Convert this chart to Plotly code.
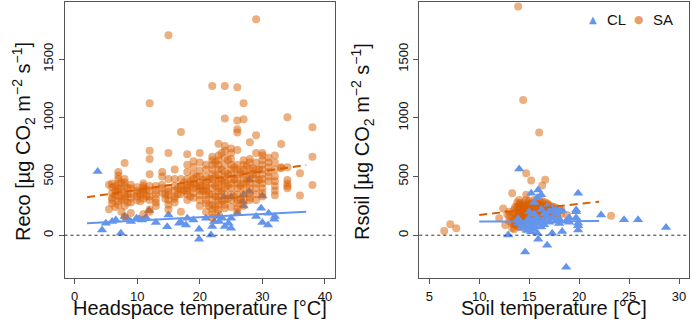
import plotly.graph_objects as go

# ---------------- Data ----------------
# Left panel: Reco vs headspace temperature
sa_hs_temp = (
    [5.5, 5.5] + [6]*6 + [6.5]*4 + [7]*9 + [7.5]*4 + [8]*9 + [8.5]*3 + [9]*6 +
    [10]*5 + [10.5]*2 + [11]*7 + [11.5]*2 + [12]*10 + [13]*6 + [14]*5 + [14.5]*2 +
    [15]*9 + [16]*7 + [16.5]*2 + [17]*6 + [17.5]*2 + [18]*9 + [18.5]*3 + [19]*8 +
    [19.5]*2 + [20]*11 + [20.5]*2 + [21]*11 + [21.5]*3 + [22]*15 + [22.5]*5 +
    [23]*15 + [23.5]*5 + [24]*15 + [24.5]*4 + [25]*12 + [25.5]*3 + [26]*16 +
    [26.5]*3 + [27]*12 + [27.5]*2 + [28]*11 + [28.5]*2 + [29]*11 + [29.5]*2 +
    [30]*11 + [31]*6 + [32]*8 + [33]*3 + [34]*6 + [36]*2 + [38]*3
)
sa_reco = [
    430, 222,
    440, 410, 360, 320, 300, 270,
    420, 380, 340, 240,
    540, 510, 480, 440, 400, 370, 330, 290, 260,
    450, 390, 310, 200,
    615, 480, 450, 420, 360, 330, 300, 250, 160,
    400, 350, 280,
    430, 400, 350, 320, 280, 190,
    410, 380, 360, 330, 300,
    350, 290,
    440, 420, 400, 380, 350, 310, 180,
    390, 330,
    1125, 720, 650, 520, 420, 380, 330, 300, 220, 200,
    420, 380, 350, 310, 280, 250,
    540, 500, 430, 400, 360,
    350, 310,
    1705, 700, 480, 400, 370, 340, 300, 260, 220,
    560, 480, 420, 380, 330, 310, 280,
    400, 350,
    880, 480, 420, 390, 350, 200,
    450, 380,
    690, 600, 540, 480, 430, 400, 380, 350, 300,
    460, 420, 330,
    630, 580, 520, 480, 440, 400, 360, 320,
    500, 420,
    700, 620, 550, 500, 450, 420, 400, 380, 340, 300, 250,
    470, 380,
    600, 560, 500, 450, 420, 400, 380, 340, 300, 270, 200,
    480, 350, 250,
    1273, 670, 640, 600, 560, 520, 480, 440, 400, 350, 300, 260, 220, 180, 150,
    620, 500, 420, 330, 240,
    780, 680, 640, 600, 560, 520, 480, 440, 400, 370, 330, 300, 260, 220, 180,
    700, 560, 460, 380, 290,
    1273, 994, 760, 720, 660, 600, 540, 500, 470, 440, 400, 350, 300, 260, 230,
    640, 520, 420, 310,
    740, 700, 650, 600, 560, 520, 480, 440, 400, 350, 300, 240,
    580, 470, 330,
    1261, 977, 903, 875, 727, 600, 560, 520, 480, 440, 400, 350, 300, 270, 230, 200,
    540, 420, 310,
    1125, 989, 640, 600, 560, 520, 480, 440, 400, 350, 300, 250,
    590, 460,
    793, 650, 620, 560, 520, 480, 440, 400, 360, 320, 300,
    570, 520,
    1841, 852, 700, 620, 560, 520, 480, 440, 400, 350, 300,
    560, 470,
    700, 680, 640, 600, 560, 520, 480, 440, 400, 360, 330,
    660, 620, 580, 540, 500, 460,
    680, 620, 560, 500, 460, 420, 380, 340,
    778, 580, 570,
    1006, 580, 470, 440, 420, 400,
    528, 338,
    920, 670, 429,
]

cl_hs_temp = [3.7, 4.4, 5.0, 6.0, 6.6, 7.4, 8.0, 8.4, 9.0, 9.9,
              10.3, 10.8, 11.4, 11.9, 13.0, 14.8, 15.0, 16.7, 17.0, 17.8,
              18.0, 19.0, 19.9, 19.9, 21.0, 21.8, 22.0, 22.3, 23.0, 23.1,
              23.6, 23.9, 24.0, 24.6, 25.0, 25.0, 25.0, 26.0, 26.9, 27.0,
              27.0, 27.9, 27.9, 29.0, 29.8, 30.0, 30.0, 30.9, 31.0, 31.9,
              32.0]
cl_reco = [543, 45, 102, 116, 130, 17, 160, 145, 116, 145,
           140, 130, 153, 210, 108, 73, 173, 102, 108, 88,
           145, 130, 51, -34, 145, 3, 74, 116, 159, 116,
           145, 329, 74, 102, 60, 145, 329, 188, 287, 344,
           250, 472, 372, 159, 230, 108, 335, 88, 188, 136,
           159]

# Right panel: Rsoil vs soil temperature
sa_soil_temp = (
    [6.5, 7.1, 7.7, 12.0, 12.4, 12.6, 12.8] + [13.0]*3 + [13.3]*4 + [13.5]*5 +
    [13.8]*6 + [13.9] + [14.0]*7 + [14.2]*5 + [14.4]*6 + [14.5]*6 + [14.7]*7 +
    [15.0]*7 + [15.2]*6 + [15.5]*7 + [15.8]*6 + [16.0]*6 + [16.3]*6 + [16.6]*5 +
    [16.9]*4 + [17.2]*4 + [17.5]*3 + [17.8]*3 + [18.2]*2 + [18.8, 23.2] +
    [13.6]*4 + [14.1]*4 + [14.9]*4 + [15.4]*4 + [16.1]*4 + [16.8]*3 + [17.4]*2
)
sa_rsoil = [
    37, 94, 60, 145, 227, 88, 180,
    120, 200, 160,
    358, 150, 100, 60,
    220, 180, 130, 90, 50,
    280, 240, 200, 160, 120, 80,
    1949,
    300, 260, 230, 190, 150, 110, 70,
    250, 210, 170, 130, 90,
    1153, 280, 240, 200, 160, 120,
    260, 220, 180, 140, 100, 60,
    528, 344, 300, 250, 210, 170, 130,
    290, 250, 220, 190, 150, 110, 80,
    466, 270, 230, 200, 160, 120,
    300, 260, 230, 200, 170, 140, 100,
    280, 250, 220, 190, 150, 120,
    875, 300, 260, 230, 200, 170,
    423, 290, 250, 220, 190, 150,
    472, 280, 250, 220, 190,
    260, 230, 200, 170,
    250, 220, 190, 160,
    240, 210, 180,
    230, 190, 160,
    220, 180,
    173, 165,
    240, 190, 140, 100,
    270, 220, 180, 130,
    270, 230, 180, 140,
    250, 210, 180, 150,
    280, 240, 210, 180,
    270, 230, 200,
    230, 190,
]

cl_soil_temp = ([12.9, 13.9, 13.9, 14.0, 14.3, 14.3, 14.6] + [14.8]*3 + [15.0]*4 +
                [15.2]*3 + [15.5]*5 + [15.8]*4 + [15.9]*2 + [16.2]*4 + [16.5]*3 +
                [16.8]*3 + [17.0]*2 + [17.3]*3 + [17.7]*3 + [18.0]*3 + [18.3]*2 +
                [18.7]*2 + [19.0]*2 + [19.7]*3 + [19.9]*4 + [22.2, 24.5, 25.9, 28.7])
cl_rsoil = [3, 140, 100, 565, 80, 60, -142,
            120, 70, 40,
            200, 150, 100, 60,
            358, 90, 30,
            280, 180, 130, 80, 50,
            320, 150, 100, 20,
            386, -34,
            344, 220, 120, 70,
            180, 130, 90,
            -85, 244, 160,
            200, 110,
            17, 230, 150,
            216, 180, 120,
            200, 140, 100,
            31, 210,
            -273, 120,
            150, 110,
            216, 200, 150,
            358, 102, 45, 80,
            173, 133, 133, 65]

# Fitted regression lines (end points)
fit_hs_x = [2, 37]
fit_sa_reco = [324, 599]
fit_cl_reco = [102, 201]
fit_soil_x = [10, 22]
fit_sa_rsoil = [173, 286]
fit_cl_rsoil = [116, 122]

x_ticks_left = [0, 10, 20, 30, 40]
x_ticks_right = [5, 10, 15, 20, 25, 30]
y_ticks = [0, 500, 1000, 1500]
legend_labels = ["CL", "SA"]

# ---------------- Styles ----------------
ORANGE = "rgba(217,95,2,0.5)"
ORANGE_LINE = "#D95F02"
BLUE = "#6495ED"
AXIS_COL = "#555555"
FONT = "Liberation Sans, Arial, sans-serif"

fig = go.Figure()


def cl_trace(x, y, xa, ya):
    return go.Scatter(x=x, y=y, mode="markers", name="CL",
                      marker=dict(symbol="triangle-up", size=9, color=BLUE),
                      xaxis=xa, yaxis=ya, showlegend=False)


def sa_trace(x, y, xa, ya):
    return go.Scatter(x=x, y=y, mode="markers", name="SA",
                      marker=dict(symbol="circle", size=8, color=ORANGE),
                      xaxis=xa, yaxis=ya, showlegend=False)


# Left panel (CL below the translucent SA circles)
fig.add_trace(cl_trace(cl_hs_temp, cl_reco, "x", "y"))
fig.add_trace(sa_trace(sa_hs_temp, sa_reco, "x", "y"))
fig.add_trace(go.Scatter(x=fit_hs_x, y=fit_sa_reco, mode="lines",
                         line=dict(color=ORANGE_LINE, width=2, dash="8px,5px"),
                         xaxis="x", yaxis="y", showlegend=False))
fig.add_trace(go.Scatter(x=fit_hs_x, y=fit_cl_reco, mode="lines",
                         line=dict(color=BLUE, width=2),
                         xaxis="x", yaxis="y", showlegend=False))

# Right panel (CL on top)
fig.add_trace(sa_trace(sa_soil_temp, sa_rsoil, "x2", "y2"))
fig.add_trace(cl_trace(cl_soil_temp, cl_rsoil, "x2", "y2"))
fig.add_trace(go.Scatter(x=fit_soil_x, y=fit_sa_rsoil, mode="lines",
                         line=dict(color=ORANGE_LINE, width=2, dash="8px,5px"),
                         xaxis="x2", yaxis="y2", showlegend=False))
fig.add_trace(go.Scatter(x=fit_soil_x, y=fit_cl_rsoil, mode="lines",
                         line=dict(color=BLUE, width=2),
                         xaxis="x2", yaxis="y2", showlegend=False))

# zero reference lines
for xr, yr in (("x", "y"), ("x2", "y2")):
    fig.add_shape(type="line", xref=f"{xr} domain", yref=yr, x0=0, x1=1, y0=0, y1=0,
                  line=dict(color="#333333", width=1, dash="3px,3px"))

W, H = 692, 327
axis_common = dict(showline=True, mirror=True, linecolor=AXIS_COL, linewidth=1,
                   ticks="outside", ticklen=5, tickcolor=AXIS_COL, showgrid=False,
                   zeroline=False, tickfont=dict(family=FONT, size=13, color="#111"))
ydom = [1 - 277.7 / H, 1 - 2 / H]

fig.update_layout(
    width=W, height=H,
    margin=dict(l=0, r=0, t=0, b=0),
    paper_bgcolor="white", plot_bgcolor="white",
    font=dict(family=FONT, color="#111"),
    xaxis=dict(domain=[64.5 / W, 335 / W], range=[-1.6, 41.6], tickvals=x_ticks_left,
               anchor="y", ticklabelstandoff=2, **axis_common),
    yaxis=dict(domain=ydom, range=[-362, 1988], tickvals=y_ticks, tickangle=-90,
               anchor="x", **axis_common),
    xaxis2=dict(domain=[419.3 / W, 689 / W], range=[4, 31], tickvals=x_ticks_right,
                anchor="y2", ticklabelstandoff=2, **axis_common),
    yaxis2=dict(domain=ydom, range=[-362, 1988], tickvals=y_ticks, tickangle=-90,
                anchor="x2", **axis_common),
    showlegend=False,
)

title_font = dict(family=FONT, size=20, color="#111")
fig.add_annotation(text="Headspace temperature [°C]", xref="paper", yref="paper",
                   x=(64.5 + 335) / 2 / W, y=1 - 308 / H, showarrow=False,
                   xanchor="center", yanchor="middle", font=title_font)
fig.add_annotation(text="Soil temperature [°C]", xref="paper", yref="paper",
                   x=(419.3 + 689) / 2 / W, y=1 - 308 / H, showarrow=False,
                   xanchor="center", yanchor="middle", font=title_font)
fig.add_annotation(text="Reco [µg CO<sub>2</sub> m<sup>−2</sup> s<sup>−1</sup>]",
                   xref="paper", yref="paper", x=23 / W, y=1 - 142 / H, showarrow=False,
                   textangle=-90, xanchor="center", yanchor="middle", font=title_font)
fig.add_annotation(text="Rsoil [µg CO<sub>2</sub> m<sup>−2</sup> s<sup>−1</sup>]",
                   xref="paper", yref="paper", x=362 / W, y=1 - 142 / H, showarrow=False,
                   textangle=-90, xanchor="center", yanchor="middle", font=title_font)

# Legend (key glyphs + labels) in the top-right corner of the right panel
leg_y = 1 - 19 / H
fig.add_annotation(text="▲", xref="paper", yref="paper", x=592.7 / W, y=leg_y,
                   showarrow=False, xanchor="center", yanchor="middle",
                   font=dict(family="DejaVu Sans", size=10, color=BLUE))
fig.add_annotation(text=legend_labels[0], xref="paper", yref="paper", x=605 / W, y=leg_y,
                   showarrow=False, xanchor="left", yanchor="middle",
                   font=dict(family=FONT, size=15, color="#111"))
fig.add_annotation(text="●", xref="paper", yref="paper", x=639.3 / W, y=leg_y,
                   showarrow=False, xanchor="center", yanchor="middle",
                   font=dict(family="DejaVu Sans", size=11, color="rgba(217,95,2,0.6)"))
fig.add_annotation(text=legend_labels[1], xref="paper", yref="paper", x=651 / W, y=leg_y,
                   showarrow=False, xanchor="left", yanchor="middle",
                   font=dict(family=FONT, size=15, color="#111"))

fig.write_html("out.html", config={"displayModeBar": False},
               post_script="document.body.style.margin='0';")
